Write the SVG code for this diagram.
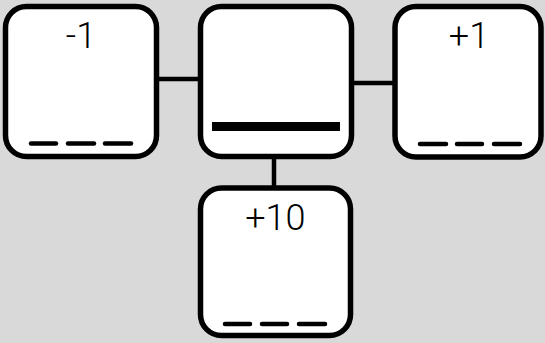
<svg xmlns="http://www.w3.org/2000/svg" width="545" height="343" viewBox="0 0 545 343">
<style>
.box{fill:#fff;stroke:#000;stroke-width:5.5}
.conn{stroke:#000;stroke-width:4.5;fill:none}
.dash{stroke:#000;stroke-width:4.5;stroke-linecap:round}
.lbl{font-family:Roboto,"Liberation Sans",sans-serif;font-weight:300;font-size:36px;fill:#000;text-anchor:middle}
</style>
<rect width="545" height="343" fill="#d9d9d9"/>
<g id="connectors">
<line class="conn" x1="156" y1="79" x2="201" y2="79"/>
<line class="conn" x1="351" y1="83" x2="396" y2="83"/>
<line class="conn" x1="274" y1="156" x2="274" y2="189"/>
</g>
<g id="node-left">
<rect class="box" x="5.5" y="6.5" width="151" height="150" rx="21"/>
<text class="lbl" x="81" y="48.3">-1</text>
<line class="dash" x1="31" y1="143.5" x2="56" y2="143.5"/>
<line class="dash" x1="68" y1="143.5" x2="94" y2="143.5"/>
<line class="dash" x1="105" y1="143.5" x2="131" y2="143.5"/>
</g>
<g id="node-center">
<rect class="box" x="200.5" y="6.5" width="151" height="150" rx="21"/>
<rect x="212" y="122" width="128" height="9" fill="#000"/>
</g>
<g id="node-right">
<rect class="box" x="395" y="6.5" width="146" height="150.5" rx="21"/>
<text class="lbl" x="469" y="48.3">+1</text>
<line class="dash" x1="420" y1="144" x2="446" y2="144"/>
<line class="dash" x1="457" y1="144" x2="482" y2="144"/>
<line class="dash" x1="494" y1="144" x2="520" y2="144"/>
</g>
<g id="node-bottom">
<rect class="box" x="200.5" y="188" width="150" height="147.5" rx="21"/>
<text class="lbl" x="275.3" y="230">+10</text>
<line class="dash" x1="225" y1="324" x2="250" y2="324"/>
<line class="dash" x1="262" y1="324" x2="287" y2="324"/>
<line class="dash" x1="299" y1="324" x2="325" y2="324"/>
</g>
</svg>
